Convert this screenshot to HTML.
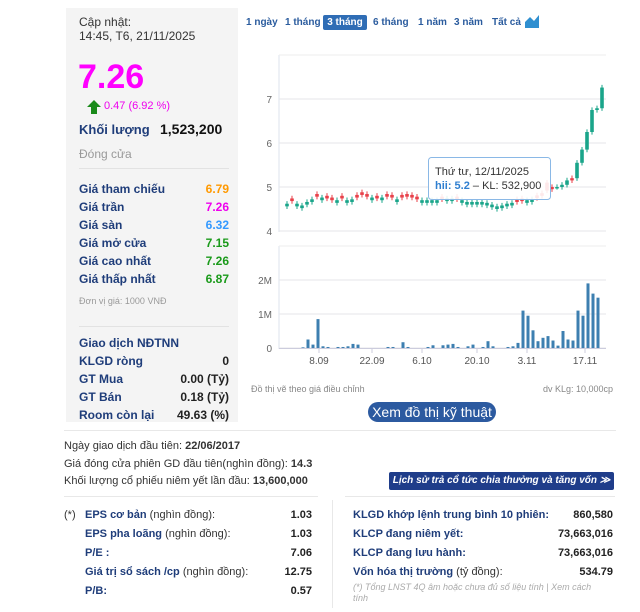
<!DOCTYPE html><html><head><meta charset="utf-8"><style>
body{margin:0;width:640px;height:612px;background:#fff;font-family:"Liberation Sans",Arial,sans-serif;position:relative;overflow:hidden}
.a{position:absolute;white-space:nowrap}
.lp{position:absolute;left:66px;top:8px;width:172px;height:414px;background:#f4f4f4}
.lb{color:#1f3d7a;font-weight:bold;font-size:12px}
.r{position:absolute;font-size:12px;font-weight:bold;text-align:right}
.tab{position:absolute;top:17px;font-size:10px;font-weight:bold;color:#2b5c9e}
.b{color:#1f3d7a;font-weight:bold}
</style></head><body>
<div class="lp"></div>
<div class="a" style="left:79px;top:15px;font-size:12px;color:#333;line-height:14px">Cập nhật:<br>14:45, T6, 21/11/2025</div>
<div class="a" style="left:78px;top:58px;font-size:34px;font-weight:bold;color:#f0f">7.26</div>
<svg class="a" style="left:86px;top:99px" width="16" height="16"><path d="M8 1 L15 8 L11 8 L11 15 L5 15 L5 8 L1 8Z" fill="#1a8a1a"/></svg>
<div class="a" style="left:104px;top:100px;font-size:11px;color:#e0e">0.47 (6.92 %)</div>
<div class="a lb" style="left:79px;top:122px;font-size:13px">Khối lượng</div>
<div class="a" style="left:160px;top:121px;font-size:14px;font-weight:bold;color:#111">1,523,200</div>
<div class="a" style="left:79px;top:147px;font-size:12px;color:#999">Đóng cửa</div>
<div class="a" style="left:79px;top:168px;width:150px;border-top:1px solid #e2e2e2"></div>
<div class="a lb" style="left:79px;top:180px;line-height:18px">Giá tham chiếu<br>Giá trần<br>Giá sàn<br>Giá mở cửa<br>Giá cao nhất<br>Giá thấp nhất</div>
<div class="r" style="left:180px;width:49px;top:180px;line-height:18px"><span style="color:#f90">6.79</span><br><span style="color:#e0e">7.26</span><br><span style="color:#39f">6.32</span><br><span style="color:#1a9a1a">7.15</span><br><span style="color:#1a9a1a">7.26</span><br><span style="color:#1a9a1a">6.87</span></div>
<div class="a" style="left:79px;top:296px;font-size:9px;color:#999">Đơn vị giá: 1000 VNĐ</div>
<div class="a" style="left:79px;top:326px;width:150px;border-top:1px solid #e2e2e2"></div>
<div class="a lb" style="left:79px;top:334px;line-height:18px">Giao dịch NĐTNN<br>KLGD ròng<br>GT Mua<br>GT Bán<br>Room còn lại</div>
<div class="r" style="left:150px;width:79px;top:334px;line-height:18px;color:#222"><br>0<br>0.00 (Tỷ)<br>0.18 (Tỷ)<br>49.63 (%)</div>

<div class="tab" style="left:246px">1 ngày</div>
<div class="tab" style="left:285px">1 tháng</div>
<div class="a" style="left:323px;top:15px;width:44px;height:15px;background:#2f6db5;border-radius:2px;color:#fff;font-size:10px;font-weight:bold;text-align:center;line-height:15px">3 tháng</div>
<div class="tab" style="left:373px">6 tháng</div>
<div class="tab" style="left:418px">1 năm</div>
<div class="tab" style="left:454px">3 năm</div>
<div class="tab" style="left:492px">Tất cả</div>
<svg class="a" style="left:525px;top:14px" width="14" height="14"><path d="M0 14 L0 8 L5 3 L9 7 L14 1 L14 14Z" fill="#2f8fd0"/></svg>
<svg id="ch" class="a" style="left:0;top:0" width="640" height="400"></svg>
<div class="a" style="left:251px;top:384px;font-size:9px;color:#888">Đồ thị vẽ theo giá điều chỉnh</div>
<div class="a" style="left:543px;top:384px;font-size:9px;color:#888">dv KLg: 10,000cp</div>
<div class="a" style="left:368px;top:402px;width:128px;height:20px;background:#2c5aa0;border-radius:10px;color:#fff;font-size:14px;text-align:center;line-height:20px">Xem đồ thị kỹ thuật</div>
<div class="a" style="left:64px;top:430px;width:552px;border-top:1px solid #e8e8e8"></div>
<div class="a" style="left:64px;top:438px;font-size:11px;color:#333;line-height:17.5px">Ngày giao dịch đầu tiên: <b>22/06/2017</b><br>Giá đóng cửa phiên GD đầu tiên(nghìn đồng): <b>14.3</b><br>Khối lượng cổ phiếu niêm yết lần đầu: <b>13,600,000</b></div>
<div class="a" style="left:389px;top:472px;width:225px;height:18px;background:#1f3d8a;border-radius:2px;color:#fff;font-size:10px;font-weight:bold;font-style:italic;text-align:center;line-height:18px">Lịch sử trả cổ tức chia thưởng và tăng vốn ≫</div>
<div class="a" style="left:64px;top:496px;width:254px;border-top:1px solid #e8e8e8"></div>
<div class="a" style="left:345px;top:496px;width:270px;border-top:1px solid #e8e8e8"></div>
<div class="a" style="left:332px;top:500px;height:108px;border-left:1px solid #e8e8e8"></div>
<div class="a" style="left:64px;top:506px;font-size:11px;line-height:19px;color:#333">(*)</div>
<div class="a" style="left:85px;top:506px;font-size:11px;line-height:19px;color:#333"><span class="b">EPS cơ bản</span> (nghìn đồng):<br><span class="b">EPS pha loãng</span> (nghìn đồng):<br><span class="b">P/E :</span><br><span class="b">Giá trị sổ sách /cp</span> (nghìn đồng):<br><span class="b">P/B:</span></div>
<div class="r" style="left:250px;width:62px;top:506px;font-size:11px;line-height:19px;color:#222">1.03<br>1.03<br>7.06<br>12.75<br>0.57</div>
<div class="a" style="left:353px;top:506px;font-size:11px;line-height:19px;color:#333"><span class="b">KLGD khớp lệnh trung bình 10 phiên:</span><br><span class="b">KLCP đang niêm yết:</span><br><span class="b">KLCP đang lưu hành:</span><br><span class="b">Vốn hóa thị trường</span> (tỷ đồng):</div>
<div class="r" style="left:520px;width:93px;top:506px;font-size:11px;line-height:19px;color:#222">860,580<br>73,663,016<br>73,663,016<br>534.79</div>
<div class="a" style="left:353px;top:582px;font-size:9px;line-height:11px;color:#aaa;font-style:italic">(*) Tổng LNST 4Q âm hoặc chưa đủ số liệu tính | Xem cách<br>tính</div>
<script>
var s='',N=64;
function X(i){return 602-(63-i)*5}
function Y(p){return 231-(p-4)*44}
s+='<line x1="279" y1="55" x2="279" y2="232" stroke="#dde3ee"/><line x1="279" y1="55" x2="606" y2="55" stroke="#eee"/>';
[4,5,6,7].forEach(function(v){var y=Y(v);s+='<line x1="279" y1="'+y+'" x2="606" y2="'+y+'" stroke="#e6e6ea"/><text x="272" y="'+(y+4)+'" font-size="10" fill="#666" text-anchor="end" font-family="Liberation Sans">'+v+'</text>'});
var base=[4.62,4.68,4.62,4.58,4.66,4.72,4.78,4.76,4.74,4.70,4.70,4.74,4.70,4.72,4.76,4.82,4.78,4.76,4.74,4.76,4.78,4.76,4.72,4.76,4.78,4.76,4.72,4.70,4.70,4.70,4.70,4.72,4.74,4.74,4.72,4.70,4.66,4.66,4.66,4.66,4.64,4.60,4.56,4.58,4.62,4.64,4.66,4.68,4.70,4.72,4.75,4.80,4.95,5.00,5.00,5.05,5.15,5.20,5.55,5.85,6.25,6.75,6.79,7.26];
var col=[1,0,1,1,1,1,0,1,0,0,1,0,1,1,0,0,0,1,0,1,0,0,1,0,0,0,0,1,1,1,1,0,1,1,0,1,1,1,1,1,1,1,1,1,1,1,0,0,1,1,0,0,0,0,1,1,1,0,1,1,1,1,1,1];
for(var i=0;i<N;i++){var c=base[i],o=i>0?base[i-1]:c-0.04,g=col[i];if(i<52){o=g?c-0.06:c+0.06}
var x=X(i),cl=g?'#1aa58a':'#e8414a';
if(i==52){o=5.1;c=4.92;cl='#e8414a'}
s+='<line x1="'+x+'" x2="'+x+'" y1="'+Y(Math.max(o,c)+0.06)+'" y2="'+Y(Math.min(o,c)-0.06)+'" stroke="'+cl+'"/>';
var t=Y(Math.max(o,c)),h=Math.max(1.5,Math.abs(Y(o)-Y(c)));s+='<rect x="'+(x-1.8)+'" y="'+t+'" width="3.6" height="'+h+'" fill="'+cl+'"/>';}
s+='<rect x="428.5" y="157.5" width="122" height="42" rx="3" fill="rgba(255,255,255,0.88)" stroke="#8ab8e6"/>';
s+='<text x="435" y="175" font-size="11" fill="#333" font-family="Liberation Sans">Thứ tư, 12/11/2025</text><text x="435" y="189" font-size="11" fill="#333" font-family="Liberation Sans"><tspan fill="#2f7fd0" font-weight="bold">hii: 5.2</tspan> – KL: 532,900</text>';
s+='<line x1="279" y1="246" x2="279" y2="349" stroke="#dde3ee"/><line x1="279" y1="246" x2="606" y2="246" stroke="#eee"/>';
[[0,348],[1,314],[2,280]].forEach(function(a){s+='<line x1="279" y1="'+a[1]+'" x2="606" y2="'+a[1]+'" stroke="#e6e6ea"/><text x="272" y="'+(a[1]+4)+'" font-size="10" fill="#666" text-anchor="end" font-family="Liberation Sans">'+(a[0]?a[0]+'M':'0')+'</text>'});
var vol={3:.02,4:.25,5:.1,6:.85,7:.05,8:.03,10:.03,11:.03,12:.05,13:.12,14:.1,20:.03,21:.03,23:.17,24:.03,28:.03,29:.08,31:.08,32:.1,33:.12,34:.03,36:.05,37:.1,39:.03,40:.2,41:.05,44:.03,45:.05,46:.15,47:1.1,48:.95,49:.52,50:.2,51:.3,52:.35,53:.22,54:.07,55:.5,56:.25,57:.22,58:1.1,59:.95,60:1.9,61:1.6,62:1.48};
for(var k in vol){var x=X(+k)+1,h=vol[k]*34;s+='<rect x="'+(x-1.5)+'" y="'+(348-h)+'" width="3" height="'+h+'" fill="#3d7fb0"/>'}
s+='<line x1="279" y1="348.5" x2="606" y2="348.5" stroke="#ccd"/>';
[['8.09',319],['22.09',372],['6.10',422],['20.10',477],['3.11',527],['17.11',585]].forEach(function(a){s+='<line x1="'+a[1]+'" x2="'+a[1]+'" y1="349" y2="353" stroke="#ccd"/><text x="'+a[1]+'" y="364" font-size="10" fill="#555" text-anchor="middle" font-family="Liberation Sans">'+a[0]+'</text>'});
document.getElementById('ch').innerHTML=s;
</script>
</body></html>
